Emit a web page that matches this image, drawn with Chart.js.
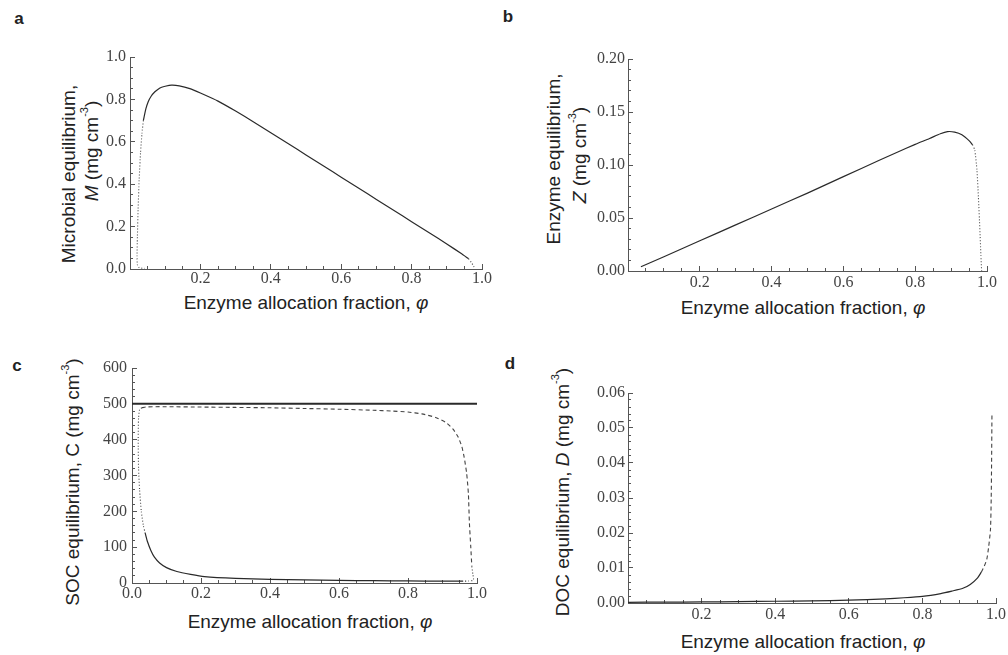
<!DOCTYPE html>
<html>
<head>
<meta charset="utf-8">
<script src="https://cdn.jsdelivr.net/npm/chart.js@4.4.1/dist/chart.umd.min.js"></script>
<style>
  body { margin: 0; background: #fff; width: 1008px; height: 655px; position: relative; overflow: hidden;
         font-family: "Liberation Sans", Arial, sans-serif; color: #222; }
  canvas { position: absolute; }
  .lbl { position: absolute; white-space: nowrap; font-size: 19px; line-height: 1; }
  .rot { transform: translate(-50%, -50%) rotate(-90deg); }
  .hz { transform: translate(-50%, -50%); }
  .tag { position: absolute; font-weight: bold; font-size: 17px; line-height: 1; transform: translate(-50%, -50%); }
  sup { font-size: 11px; vertical-align: top; position: relative; top: -3px; }
</style>
</head>
<body>
<div class="tag" style="left:19px;top:18px">a</div>
<div class="tag" style="left:508px;top:16px">b</div>
<div class="tag" style="left:17px;top:365px">c</div>
<div class="tag" style="left:510px;top:363px">d</div>

<div class="lbl rot" style="left:68px;top:174px">Microbial equilibrium,</div>
<div class="lbl rot" style="left:91px;top:151px"><i>M</i> (mg cm<sup>-3</sup>)</div>
<div class="lbl rot" style="left:553px;top:159px">Enzyme equilibrium,</div>
<div class="lbl rot" style="left:579px;top:155px"><i>Z</i> (mg cm<sup>-3</sup>)</div>
<div class="lbl rot" style="left:72px;top:482px">SOC equilibrium, C (mg cm<sup>-3</sup>)</div>
<div class="lbl rot" style="left:562px;top:492px">DOC equilibrium, <i>D</i> (mg cm<sup>-3</sup>)</div>

<div class="lbl hz" style="left:306px;top:302px">Enzyme allocation fraction, <i>φ</i></div>
<div class="lbl hz" style="left:803px;top:307px">Enzyme allocation fraction, <i>φ</i></div>
<div class="lbl hz" style="left:310px;top:621px">Enzyme allocation fraction, <i>φ</i></div>
<div class="lbl hz" style="left:803px;top:641px">Enzyme allocation fraction, <i>φ</i></div>

<canvas id="pa"></canvas>
<canvas id="pb"></canvas>
<canvas id="pc"></canvas>
<canvas id="pd"></canvas>

<script>
// ---- tick labels ----
const xTicks = [0.2, 0.4, 0.6, 0.8, 1.0];
const xTicksC = [0.0, 0.2, 0.4, 0.6, 0.8, 1.0];
const yTicksA = [0, 0.2, 0.4, 0.6, 0.8, 1.0];
const yTicksB = [0, 0.05, 0.10, 0.15, 0.20];
const yTicksC = [0, 100, 200, 300, 400, 500, 600];
const yTicksD = [0, 0.01, 0.02, 0.03, 0.04, 0.05, 0.06];

// ---- a: microbial biomass M ----
const phiA = [0.038, 0.045, 0.052, 0.06, 0.07, 0.08, 0.09, 0.1, 0.118, 0.14, 0.17, 0.2, 0.25, 0.3, 0.35, 0.4,
              0.45, 0.5, 0.55, 0.6, 0.65, 0.7, 0.75, 0.8, 0.85, 0.9, 0.94, 0.962];
const mA = [0.70, 0.755, 0.79, 0.815, 0.835, 0.848, 0.857, 0.862, 0.867, 0.864, 0.851, 0.830, 0.792, 0.745, 0.695,
            0.643, 0.591, 0.538, 0.486, 0.433, 0.381, 0.328, 0.276, 0.223, 0.171, 0.118, 0.074, 0.048];
const phiAFold = [0.038, 0.034, 0.030, 0.026, 0.023, 0.021, 0.020, 0.021, 0.025, 0.032, 0.042];
const mAFold = [0.70, 0.64, 0.55, 0.42, 0.28, 0.15, 0.06, 0.02, 0.008, 0.004, 0.003];
const phiATail = [0.962, 0.970, 0.976, 0.980];
const mATail = [0.048, 0.030, 0.014, 0.0];

// ---- b: enzyme pool Z ----
const phiB = [0.036, 0.1, 0.2, 0.3, 0.4, 0.5, 0.6, 0.7, 0.75, 0.8, 0.84, 0.87, 0.89, 0.91, 0.93, 0.95, 0.96];
const zB = [0.004, 0.0135, 0.0285, 0.0435, 0.0585, 0.0735, 0.089, 0.1045, 0.112, 0.1195, 0.125, 0.1295, 0.1315,
            0.131, 0.1285, 0.123, 0.119];
const phiBTail = [0.96, 0.966, 0.972, 0.976, 0.980, 0.983, 0.985];
const zBTail = [0.119, 0.114, 0.095, 0.07, 0.04, 0.015, 0.0];

// ---- c: soil organic carbon C ----
const phiCInput = [0, 1];
const cInput = [500, 500];
const phiCUp = [0.028, 0.04, 0.06, 0.1, 0.2, 0.3, 0.4, 0.5, 0.6, 0.7, 0.75, 0.8, 0.84, 0.88, 0.91, 0.93, 0.945,
                0.956, 0.963, 0.97, 0.975, 0.978, 0.982, 0.985];
const cUp = [489, 491, 492, 492, 491, 490, 489, 487, 485, 482, 480, 477, 472, 462, 448, 430, 408, 381, 350, 306,
             250, 167, 100, 46];
const phiCFoldL = [0.028, 0.022, 0.019, 0.018, 0.019, 0.022, 0.027, 0.033, 0.038];
const cFoldL = [489, 484, 460, 400, 320, 260, 200, 160, 140];
const phiCLow = [0.038, 0.045, 0.055, 0.065, 0.08, 0.1, 0.13, 0.17, 0.21, 0.3, 0.4, 0.5, 0.6, 0.7, 0.8, 0.9, 0.96];
const cLow = [140, 115, 90, 72, 56, 43, 32, 24, 18, 13, 10, 8.5, 7.3, 6.5, 5.8, 5.2, 5];
const phiCFoldR = [0.985, 0.988, 0.99, 0.988, 0.975, 0.96];
const cFoldR = [46, 25, 12, 7, 5.5, 5];

// ---- d: dissolved organic carbon D ----
const phiDLow = [0.0, 0.1, 0.2, 0.3, 0.4, 0.5, 0.6, 0.7, 0.75, 0.8, 0.85, 0.88, 0.91, 0.93, 0.95, 0.96];
const dLow = [0.0002, 0.00025, 0.0003, 0.0004, 0.0005, 0.0006, 0.0008, 0.0012, 0.0015, 0.0019, 0.0027, 0.0034,
              0.0042, 0.0053, 0.0072, 0.0088];
const phiDUp = [0.96, 0.968, 0.975, 0.98, 0.985, 0.987, 0.988, 0.989];
const dUp = [0.0088, 0.0105, 0.0125, 0.016, 0.021, 0.03, 0.04, 0.054];

const pts = (xs, ys) => xs.map((x, i) => ({ x: x, y: ys[i] }));
const steps = (max, step) => Array.from({ length: Math.round(max / step) + 1 }, (_, i) => ({ value: i * step }));

const INK = '#2a2a2a', AXIS = '#555';
const solid = (xs, ys, w) => ({ data: pts(xs, ys), borderColor: INK, borderWidth: w || 1.2, showLine: true });
const dotted = (xs, ys) => ({ data: pts(xs, ys), borderColor: '#444', borderWidth: 1.1, borderDash: [1, 2], showLine: true });
const dashed = (xs, ys) => ({ data: pts(xs, ys), borderColor: '#444', borderWidth: 1.1, borderDash: [4, 3], showLine: true });

const PT = 26, PR = 26, YW = 50, XH = 30;
const MAJ = 5, MIN = 3;   // inward tick lengths
const tickFont = { family: '"Liberation Serif", "Times New Roman", serif', size: 16 };

// main axis carries labels + major ticks; a zero-size twin next to the plot carries the minor ticks
function mainAxis(pos, max, ticks, pad, fmt, size) {
  const horiz = pos === 'bottom';
  return {
    type: 'linear', position: pos, min: 0, max: max, weight: 1,
    border: { display: true, color: AXIS, width: 1 },
    grid: { display: true, drawOnChartArea: false, drawTicks: true, tickLength: -MAJ, color: AXIS },
    ticks: { padding: pad + MAJ, font: tickFont, color: '#444', autoSkip: false, maxRotation: 0, callback: fmt },
    afterBuildTicks: s => { s.ticks = ticks.map(v => ({ value: v })); },
    afterFit: s => { if (horiz) s.height = size; else s.width = size; }
  };
}
function minorAxis(pos, max, step) {
  const horiz = pos === 'bottom';
  return {
    type: 'linear', position: pos, min: 0, max: max, weight: 0, display: true,
    border: { display: false },
    grid: { display: true, drawOnChartArea: false, drawTicks: true, tickLength: -MIN, color: AXIS },
    ticks: { display: false },
    afterBuildTicks: s => { s.ticks = steps(max, step); },
    afterFit: s => { if (horiz) s.height = 0; else s.width = 0; }
  };
}

function panel(id, box, cfg) {
  const cv = document.getElementById(id);
  cv.width = box.r - box.l + YW + PR;
  cv.height = box.b - box.t + PT + XH;
  cv.style.left = (box.l - YW) + 'px';
  cv.style.top = (box.t - PT) + 'px';
  return new Chart(cv, {
    type: 'scatter',
    data: { datasets: cfg.datasets },
    options: {
      responsive: false,
      animation: false,
      layout: { padding: { top: PT, right: PR, left: 0, bottom: 0 } },
      elements: { point: { radius: 0 }, line: { tension: 0.2 } },
      plugins: { legend: { display: false }, tooltip: { enabled: false } },
      scales: {
        x: mainAxis('bottom', 1, cfg.xTicks, cfg.xPad, v => v.toFixed(1), XH),
        xm: minorAxis('bottom', 1, 0.05),
        y: mainAxis('left', cfg.yMax, cfg.yTicks, cfg.yPad, v => v.toFixed(cfg.yDigits), YW),
        ym: minorAxis('left', cfg.yMax, cfg.yMinor)
      }
    }
  });
}

panel('pa', { l: 130, t: 57, r: 482, b: 269 }, {
  datasets: [solid(phiA, mA), dotted(phiAFold, mAFold), dotted(phiATail, mATail)],
  xTicks: xTicks, yTicks: yTicksA, yMax: 1.0, yMinor: 0.05, yDigits: 1, xPad: 0, yPad: 4
});

panel('pb', { l: 628, t: 59, r: 987, b: 271 }, {
  datasets: [solid(phiB, zB), dotted(phiBTail, zBTail)],
  xTicks: xTicks, yTicks: yTicksB, yMax: 0.2, yMinor: 0.01, yDigits: 2, xPad: 2, yPad: 3
});

panel('pc', { l: 132, t: 368, r: 477, b: 583 }, {
  datasets: [solid(phiCInput, cInput, 2), dashed(phiCUp, cUp), dotted(phiCFoldL, cFoldL),
             solid(phiCLow, cLow), dotted(phiCFoldR, cFoldR)],
  xTicks: xTicksC, yTicks: yTicksC, yMax: 600, yMinor: 20, yDigits: 0, xPad: 1, yPad: 5
});

panel('pd', { l: 628, t: 393, r: 996, b: 603 }, {
  datasets: [solid(phiDLow, dLow), dashed(phiDUp, dUp)],
  xTicks: xTicks, yTicks: yTicksD, yMax: 0.06, yMinor: 0.002, yDigits: 2, xPad: 2, yPad: 3
});
</script>
</body>
</html>
